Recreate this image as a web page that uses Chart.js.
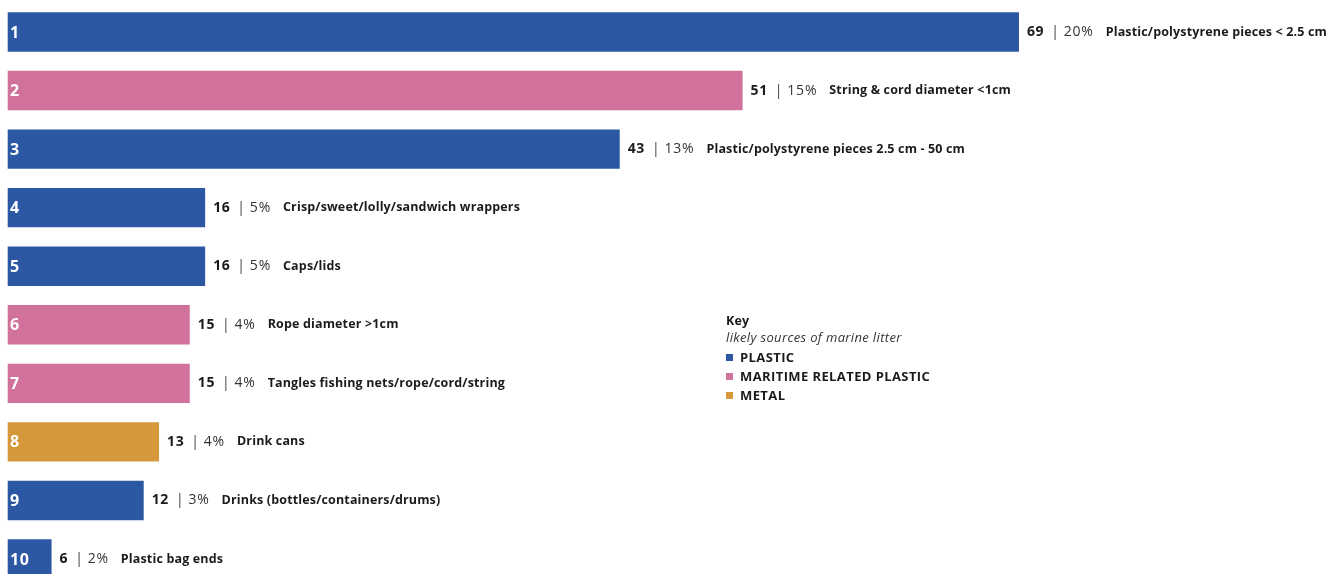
<!DOCTYPE html>
<html>
<head>
<meta charset="utf-8">
<script src="https://cdn.jsdelivr.net/npm/chart.js@4.4.1/dist/chart.umd.min.js"></script>
<style>
  html, body { margin: 0; padding: 0; background: #fff; overflow: hidden; }
  #wrap { position: relative; width: 1343px; height: 590px; }
  #key { position: absolute; left: 726px; top: 313px; font-family: "Open Sans", sans-serif; color: #1b1b1b; }
  #key .title { font-weight: 700; font-size: 12.5px; line-height: 16px; letter-spacing: 0.2px; }
  #key .sub { font-style: italic; font-size: 13px; line-height: 16px; color: #333; margin-bottom: 3px; letter-spacing: 0.35px; }
  #key .row { font-weight: 700; font-size: 13px; line-height: 19px; display: flex; align-items: center; letter-spacing: 0.4px; }
  #key .sw { width: 7px; height: 7px; margin-right: 7px; }
</style>
</head>
<body>
<div id="wrap">
  <canvas id="c" width="1343" height="590"></canvas>
  <div id="key"></div>
</div>
<script>
// ── Data ───────────────────────────────────────────────────────────────────
const ranks   = ["1", "2", "3", "4", "5", "6", "7", "8", "9", "10"];
const counts  = [69, 51, 43, 16, 16, 15, 15, 13, 12, 6];
const shares  = ["20%", "15%", "13%", "5%", "5%", "4%", "4%", "4%", "3%", "2%"];
const items   = [
  "Plastic/polystyrene pieces < 2.5 cm",
  "String & cord diameter <1cm",
  "Plastic/polystyrene pieces 2.5 cm - 50 cm",
  "Crisp/sweet/lolly/sandwich wrappers",
  "Caps/lids",
  "Rope diameter >1cm",
  "Tangles fishing nets/rope/cord/string",
  "Drink cans",
  "Drinks (bottles/containers/drums)",
  "Plastic bag ends",
];
const sources = ["PLASTIC", "MARITIME RELATED PLASTIC", "PLASTIC", "PLASTIC", "PLASTIC",
                 "MARITIME RELATED PLASTIC", "MARITIME RELATED PLASTIC", "METAL", "PLASTIC", "PLASTIC"];
const keyNames = ["PLASTIC", "MARITIME RELATED PLASTIC", "METAL"];
const keyColors = { "PLASTIC": "#2c58a3", "MARITIME RELATED PLASTIC": "#d0729b", "METAL": "#d5993b" };

const FONT = '"Open Sans", sans-serif';

// ── Key (legend) ───────────────────────────────────────────────────────────
const key = document.getElementById("key");
key.innerHTML = '<div class="title">Key</div><div class="sub">likely sources of marine litter</div>' +
  keyNames.map(n => `<div class="row"><span class="sw" style="background:${keyColors[n]}"></span>${n}</div>`).join("");

// ── Labels drawn next to / inside bars ─────────────────────────────────────
const barLabels = {
  id: "barLabels",
  afterDatasetsDraw(chart) {
    const ctx = chart.ctx;
    const bars = chart.getDatasetMeta(0).data;
    ctx.save();
    ctx.textBaseline = "middle";
    bars.forEach((b, i) => {
      const y = b.y;
      // rank inside bar
      ctx.fillStyle = "#fff";
      ctx.letterSpacing = "0.5px";
      ctx.font = `700 16px ${FONT}`;
      ctx.fillText(ranks[i], 10, y + 1);
      // count | share  item
      let x = b.x + 8;
      ctx.fillStyle = "#1b1b1b";
      ctx.letterSpacing = "0.6px";
      ctx.font = `700 14px ${FONT}`;
      ctx.fillText(String(counts[i]), x, y);
      x += ctx.measureText(String(counts[i])).width + 7;
      ctx.letterSpacing = "0.8px";
      ctx.font = `400 14px ${FONT}`;
      ctx.fillStyle = "#444";
      ctx.fillText("|", x, y);
      x += ctx.measureText("|").width + 4;
      ctx.fillStyle = "#333";
      ctx.fillText(shares[i], x, y);
      x += ctx.measureText(shares[i]).width + 12;
      ctx.fillStyle = "#1b1b1b";
      ctx.letterSpacing = "0.15px";
      ctx.font = `700 12.5px ${FONT}`;
      ctx.fillText(items[i], x, y);
    });
    ctx.restore();
  }
};

new Chart(document.getElementById("c"), {
  type: "bar",
  data: {
    labels: ranks,
    datasets: [{
      data: counts,
      backgroundColor: sources.map(s => keyColors[s]),
      barPercentage: 0.673,
      categoryPercentage: 1,
      borderWidth: 0,
    }],
  },
  options: {
    indexAxis: "y",
    responsive: false,
    animation: false,
    layout: { padding: { left: 7.7, right: 0, top: 2.7, bottom: 1.7 } },
    plugins: { legend: { display: false }, tooltip: { enabled: false } },
    scales: {
      x: { display: false, min: 3.143, max: 90.1, grid: { display: false } },
      y: { display: false, grid: { display: false } },
    },
  },
  plugins: [barLabels],
});
</script>
</body>
</html>
